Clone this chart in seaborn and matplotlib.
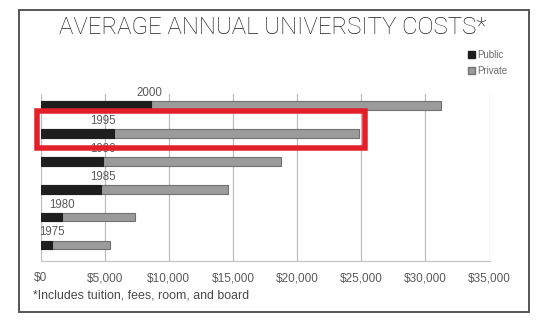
import matplotlib
matplotlib.use("Agg")
import matplotlib.pyplot as plt
import matplotlib.patches as mpatches
import seaborn as sns
import pandas as pd

# ---- data ----
years = ["2000", "1995", "1990", "1985", "1980", "1975"]
public_cost = [8600, 5750, 4900, 4750, 1650, 870]
private_cost = [31200, 24800, 18750, 14650, 7350, 5400]
xticks = [0, 5000, 10000, 15000, 20000, 25000, 30000, 35000]
xtick_labels = ["$0", "$5,000", "$10,000", "$15,000", "$20,000", "$25,000", "$30,000", "$35,000"]
title = "AVERAGE ANNUAL UNIVERSITY COSTS*"
footnote = "*Includes tuition, fees, room, and board"
series_names = ["Public", "Private"]

# layout (label anchor positions, in data units)
label_x = [8500, 4900, 4900, 4900, 1650, 900]

df = pd.DataFrame({"year": years, "public": public_cost, "private": private_cost})

sns.set_theme(style="white")
plt.rcParams["font.family"] = ["Liberation Sans", "DejaVu Sans"]

W, H = 553, 332
fig = plt.figure(figsize=(W / 100, H / 100), dpi=100)
fig.patch.set_facecolor("white")

ax_left, ax_right, ax_top, ax_bottom = 40.5, 489.5, 94, 261
ax = fig.add_axes([ax_left / W, 1 - ax_bottom / H, (ax_right - ax_left) / W, (ax_bottom - ax_top) / H])

pub_col = "#1e1e1e"
priv_col = "#9b9b9b"
bar_w = 0.31

sns.barplot(data=df, x="private", y="year", order=years, orient="h", color=priv_col,
            width=bar_w, edgecolor="#727272", linewidth=0.8, saturation=1, ax=ax, zorder=3)
sns.barplot(data=df, x="public", y="year", order=years, orient="h", color=pub_col,
            width=bar_w, edgecolor=pub_col, linewidth=0.8, saturation=1, ax=ax, zorder=4)

ax.set_xlim(0, 35000)
ax.set_ylim(5.575, -0.42)
ax.set_xlabel("")
ax.set_ylabel("")
ax.set_yticks([])
ax.set_xticks(xticks)
ax.set_xticklabels(xtick_labels, fontsize=8.5, color="#5a5a5a")
ax.tick_params(axis="x", which="major", length=0, pad=8)
ax.set_xticks([0, 35000], minor=True)
ax.tick_params(axis="x", which="minor", length=4, width=0.9, color="#b0b0b0")
ax.grid(axis="x", color="#bdbdbd", linewidth=0.9, zorder=1)
ax.set_axisbelow(True)
for s in ["top", "left", "right"]:
    ax.spines[s].set_visible(False)
ax.spines["bottom"].set_color("#c6c6c6")
ax.spines["bottom"].set_linewidth(0.9)

for i, (yr, lx) in enumerate(zip(years, label_x)):
    ax.text(lx, i - 0.45, yr, ha="center", va="center", fontsize=8.3, color="#5a5a5a",
            zorder=5)

# title & footnote
fig.text(273 / W, 1 - 27 / H, title, ha="center", va="center", fontsize=17.3,
         color="#1f1f1f", family=["Roboto", "DejaVu Sans"], fontweight="light")
fig.text(33 / W, 1 - 296 / H, footnote, ha="left", va="center", fontsize=8.9, color="#4a4a4a")

# legend
handles = [mpatches.Patch(facecolor=pub_col, edgecolor=pub_col),
           mpatches.Patch(facecolor=priv_col, edgecolor="#727272")]
fig.legend(handles, series_names, loc="upper left", bbox_to_anchor=(463.5 / W, 1 - 45 / H),
           frameon=False, fontsize=7, labelcolor="#6a6a6a", handlelength=0.65,
           handleheight=0.7, handletextpad=0.24, labelspacing=0.6, borderpad=0)

# red highlight box
fig.patches.append(mpatches.Rectangle((37.2 / W, 1 - 148.3 / H), 327.6 / W, 37.5 / H,
                                      transform=fig.transFigure, fill=False,
                                      edgecolor="#e3202a", linewidth=3.96, zorder=10))
# outer frame
fig.patches.append(mpatches.Rectangle((19.2 / W, 1 - 312 / H), 509.3 / W, 302 / H,
                                      transform=fig.transFigure, fill=False,
                                      edgecolor="#555555", linewidth=1.4, zorder=10))

fig.savefig("out.png", dpi=100, facecolor="white")
